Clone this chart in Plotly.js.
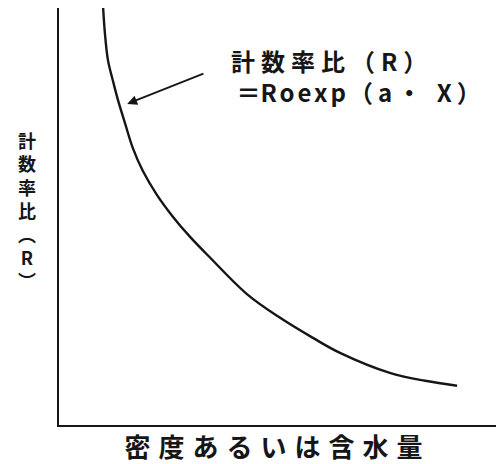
<!DOCTYPE html>
<html>
<head>
<meta charset="utf-8">
<script src="https://cdn.plot.ly/plotly-3.0.1.min.js"></script>
<style>
  html, body { margin: 0; padding: 0; background: #fff; }
  #chart { width: 496px; height: 464px; }
</style>
</head>
<body>
<div id="chart"></div>
<script>
// Curve (arbitrary units: x 0-10, y 0-10)
const curveX = [1.01, 1.05, 1.12, 1.24, 1.35, 1.51, 1.69, 1.92, 2.24, 2.61, 3.00, 3.46, 4.30, 5.06, 5.81, 6.43, 7.57, 8.38, 9.11];
const curveY = [10.0, 9.40, 8.75, 8.23, 7.79, 7.24, 6.64, 6.09, 5.52, 4.99, 4.51, 4.01, 3.14, 2.57, 2.09, 1.73, 1.25, 1.06, 0.94];

// Arrow (tail -> tip) pointing at the curve
const arrowTail = [3.34, 8.44];
const arrowTip = [1.56, 7.70];

// Texts
const xTitle = '密度あるいは含水量';
const yTitleChars = ['計', '数', '率', '比', '︵', 'R', '︶'];
const formulaLine1 = '計数率比（R）';
const formulaLine2a = '＝';
const formulaLine2b = 'Roexp';
const formulaLine2c = '（a・ X）';

const FONT = '"Noto Sans CJK JP", "Noto Sans", sans-serif';
const INK = '#161616';

const trace = {
  x: curveX,
  y: curveY,
  type: 'scatter',
  mode: 'lines',
  line: { color: INK, width: 2.4, shape: 'spline', smoothing: 1 },
  hoverinfo: 'skip',
  showlegend: false
};

const layout = {
  width: 496,
  height: 464,
  margin: { l: 59, r: 0, t: 8, b: 39, pad: 0 },
  paper_bgcolor: '#ffffff',
  plot_bgcolor: '#ffffff',
  showlegend: false,
  font: { family: FONT, color: INK },
  xaxis: {
    range: [0, 10],
    showline: true, linecolor: INK, linewidth: 2.4,
    showgrid: false, zeroline: false, showticklabels: false, ticks: '',
    automargin: false,
    title: { text: '<span style="letter-spacing:8px">' + xTitle + '</span>',
             font: { family: FONT, size: 26, color: INK, weight: 700 }, standoff: 14 }
  },
  yaxis: {
    range: [0, 10],
    showline: true, linecolor: INK, linewidth: 2.4,
    showgrid: false, zeroline: false, showticklabels: false, ticks: '',
    automargin: false
  },
  annotations: [
    {
      xref: 'x', yref: 'y', axref: 'x', ayref: 'y',
      x: arrowTip[0], y: arrowTip[1], ax: arrowTail[0], ay: arrowTail[1],
      text: '', showarrow: true, arrowhead: 2, arrowsize: 1.1, arrowwidth: 1.8, arrowcolor: INK
    },
    {
      xref: 'x', yref: 'y', x: 3.89, y: 8.37, xanchor: 'left', yanchor: 'middle',
      showarrow: false, align: 'left',
      text: '<span style="letter-spacing:6px">' + formulaLine1 + '</span><br>' +
            '\u00A0' + formulaLine2a +
            '<span style="letter-spacing:3px">' + formulaLine2b + '</span>' +
            '<span style="letter-spacing:5px">' + formulaLine2c + '</span>',
      font: { family: FONT, size: 24, color: INK, weight: 700 }
    },
    {
      xref: 'paper', yref: 'paper', x: -0.073, y: 0.515, xanchor: 'center', yanchor: 'middle',
      showarrow: false, align: 'center',
      text: yTitleChars.join('<br>'),
      font: { family: FONT, size: 18, color: INK, weight: 700 }
    }
  ]
};

Plotly.newPlot('chart', [trace], layout, { staticPlot: true, displayModeBar: false });
</script>
</body>
</html>
